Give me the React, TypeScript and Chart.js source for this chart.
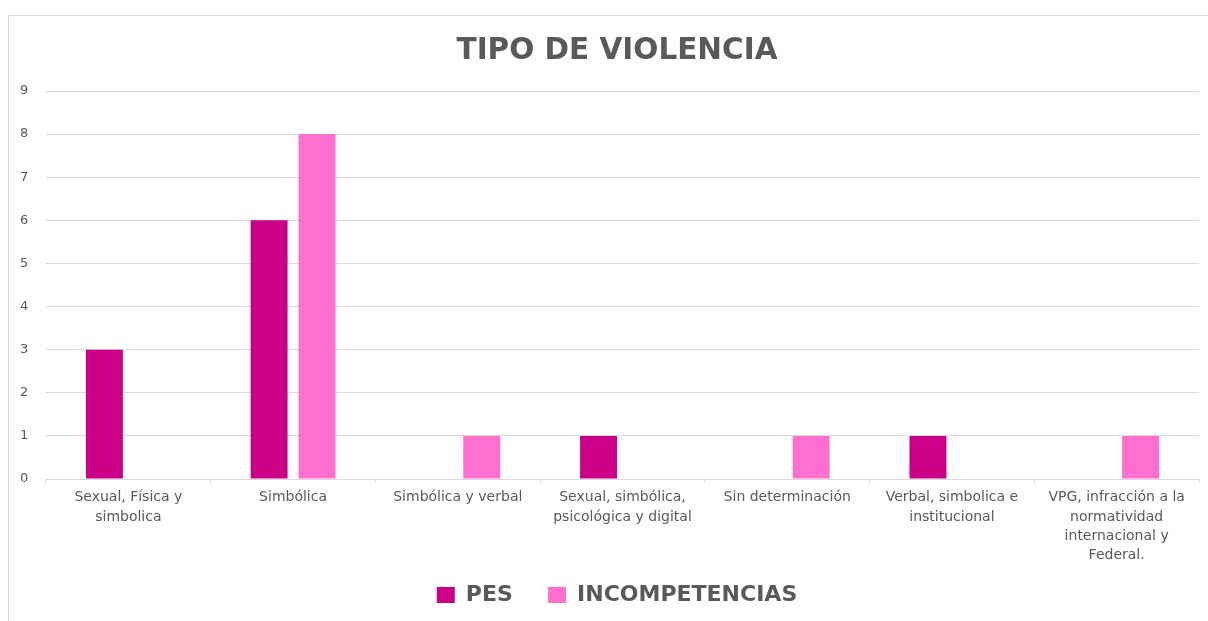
import React, { useEffect, useRef } from "react";
import { Chart, registerables } from "chart.js";

Chart.register(...registerables);

const categories: (string | string[])[] = [
  ["Sexual, Física y", "simbolica"],
  "Simbólica",
  "Simbólica y verbal",
  ["Sexual, simbólica,", "psicológica y digital"],
  "Sin determinación",
  ["Verbal, simbolica e", "institucional"],
  ["VPG, infracción a la", "normatividad", "internacional y", "Federal."],
];
const pesValues = [3, 6, 0, 1, 0, 1, 0];
const incompetenciasValues = [0, 8, 1, 0, 1, 0, 1];
const seriesNames = ["PES", "INCOMPETENCIAS"];
const titleText = "TIPO DE VIOLENCIA";

const FONT = "'DejaVu Sans', 'Open Sans', sans-serif";
const TEXT = "#595959";
const GRID = "#d9d9d9";

export default function App() {
  const ref = useRef<HTMLCanvasElement | null>(null);

  useEffect(() => {
    if (!ref.current) return;
    document.body.style.overflow = "hidden";
    const chart = new Chart(ref.current, {
      type: "bar",
      data: {
        labels: categories,
        datasets: [
          {
            label: seriesNames[0],
            data: pesValues,
            backgroundColor: "#CC0088",
            borderWidth: 0,
            categoryPercentage: 0.582,
            barPercentage: 0.771,
          },
          {
            label: seriesNames[1],
            data: incompetenciasValues,
            backgroundColor: "#FF6FCF",
            borderWidth: 0,
            categoryPercentage: 0.582,
            barPercentage: 0.771,
          },
        ],
      },
      options: {
        animation: false,
        responsive: false,
        maintainAspectRatio: false,
        layout: { padding: { left: 35, right: 9, top: 0, bottom: 5 } },
        plugins: {
          title: {
            display: true,
            text: titleText,
            color: TEXT,
            font: { family: FONT, size: 29.5, weight: "bold", lineHeight: 1.2 },
            padding: { top: 34, bottom: 21.6 },
          },
          legend: {
            display: true,
            position: "bottom",
            labels: {
              color: TEXT,
              font: { family: FONT, size: 22, weight: "bold" },
              boxWidth: 18,
              boxHeight: 16,
              padding: 20,
              generateLabels: (c: any) => {
                const items = (Chart as any).defaults.plugins.legend.labels.generateLabels(c);
                items.forEach((it: any, i: number) => {
                  if (i < items.length - 1) it.text = it.text + "  ";
                });
                return items;
              },
            },
          },
          tooltip: { enabled: false },
        },
        scales: {
          x: {
            grid: {
              display: true,
              drawOnChartArea: false,
              drawTicks: true,
              tickLength: 4,
              color: GRID,
              offset: true,
            },
            border: { display: true, color: GRID },
            ticks: {
              color: TEXT,
              font: { family: FONT, size: 14, lineHeight: 1.38 },
              padding: 5,
              maxRotation: 0,
              minRotation: 0,
              autoSkip: false,
            },
            afterFit: (scale: any) => {
              scale.height = 85;
            },
          },
          y: {
            min: 0,
            max: 9,
            ticks: {
              stepSize: 1,
              color: TEXT,
              font: { family: FONT, size: 13 },
              mirror: true,
              padding: -26,
            },
            grid: { color: GRID, drawTicks: false },
            border: { display: false },
            afterFit: (scale: any) => {
              scale.width = 11;
            },
          },
        },
      },
    });
    return () => chart.destroy();
  }, []);

  return (
    <div
      style={{
        position: "absolute",
        left: 0,
        top: 0,
        width: 1208,
        height: 621,
        overflow: "hidden",
        background: "#ffffff",
      }}
    >
      <div
        style={{
          position: "absolute",
          left: 8,
          top: 15,
          width: 1300,
          height: 800,
          borderLeft: `1px solid ${GRID}`,
          borderTop: `1px solid ${GRID}`,
          boxSizing: "border-box",
        }}
      />
      <canvas
        ref={ref}
        width={1208}
        height={621}
        style={{ position: "absolute", left: 0, top: 0, width: 1208, height: 621 }}
      />
    </div>
  );
}
